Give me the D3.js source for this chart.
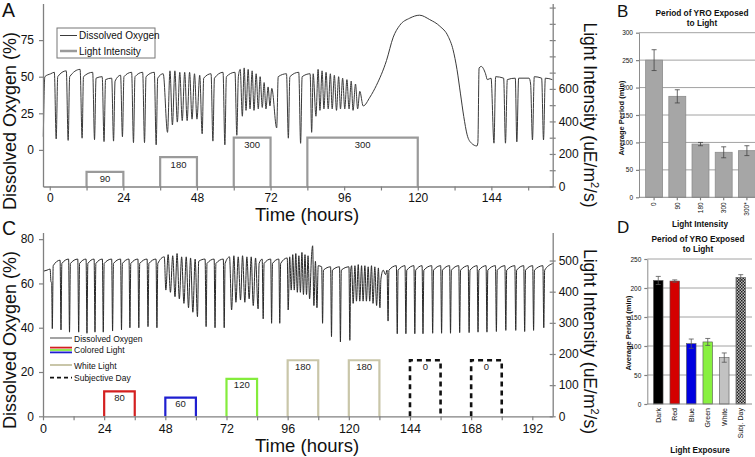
<!DOCTYPE html>
<html><head><meta charset="utf-8">
<script src="https://cdn.jsdelivr.net/npm/d3@7"></script>
<style>body{margin:0;background:#fff}svg{display:block}text{font-family:'Liberation Sans',Arial,sans-serif}</style>
</head><body><svg id="c" width="755" height="457"></svg>
<script>
// ---------------- DATA ----------------
// Panel A: dissolved oxygen trace [hours, %]
const doA = [
[-2.1,9],[-1.6,50],[0.3,52],[1.5,53],
[2.1,7.5],[2.6,50],[5.4,54],
[6.0,6.5],[6.5,50],[9.9,55],
[10.55,8],[11.0,50],[14.0,53],
[14.6,7],[15.1,49],[17.1,50],
[17.7,5.7],[18.2,48],[20.2,49],
[20.8,6],[21.3,47],[23.1,51],
[23.7,9],[24.2,50],[26.7,53],
[27.3,5],[27.8,50],[30.3,53],
[30.9,5],[31.4,50],[34.1,53],
[34.7,3.5],[35.2,49],[37.0,52],
[38.4,12],[39.2,54],[40.0,17],[40.8,54],[41.6,19],[42.4,53],[43.2,20],[44.0,53],[44.8,20],[45.6,53],[46.4,21],[47.2,52],[48.0,21],[48.9,51],
[49.7,11],[50.2,49],[52.6,52],
[53.2,6],[53.7,49],[56.5,53],
[57.1,3.5],[57.6,50],[60.4,53],
[61.0,10],[61.5,50],[62.1,55],
[62.8,23],[63.4,56],[64.0,27],[64.7,55],[65.3,28],[66.0,54],[66.6,27],[67.3,52],[68.0,28],[68.6,50],[69.3,29],[69.9,46],[70.5,28],[71.2,43],[71.8,30],[72.4,42],
[74.0,15],[74.5,50],[77.2,52],
[77.8,8],[78.3,50],[81.2,53],
[81.8,4.5],[82.3,50],[84.9,52],
[85.4,12],[85.9,52],
[86.8,23],[87.5,55],[88.1,27],[88.8,54],[89.4,28],[90.1,53],[90.8,28],[91.5,52],[92.1,28],[92.8,51],[93.5,27],[94.2,50],[94.8,28],[95.5,49],[96.2,28],[96.9,48],[97.6,28],[98.3,47],[98.9,27],[99.7,45],[100.4,28],[101.1,40],
[102.2,30],[104.4,36],[106.5,44],[109.8,61],[112.0,77],[114.1,85],[117.4,90],[120.6,92],[123.9,89],[127.2,84.5],[129.9,77.6],[131.5,68.5],[132.8,54.8],[133.9,38.8],[135.0,22.8],[136.1,10.3],[137.5,4.6],[139.3,2.7],[139.6,5],
[140.0,56],[140.7,57],[142.1,52],[142.7,48],[143.9,49],
[144.85,4.6],[145.4,50],[148.0,49],
[148.6,4.6],[149.2,48],[151.8,49],
[152.3,5.5],[152.9,49],[156.3,49],[156.8,45],
[157.4,6.8],[158.0,50],[160.4,49],
[161.0,6.8],[161.6,49],[163.9,48]
];
// Panel C: dissolved oxygen trace [hours, %]
const doC = [
[0.1,65.5],[1.6,66],[2.8,66.5],[3.1,61],[3.4,60],
[3.65,39.6],[4.0,68],[6.7,70.5],
[7.06,39],[7.4,69],[10.05,71],
[10.4,38],[10.75,69],[13.65,71],
[14.0,38],[14.35,69],[16.9,71],
[17.25,37.5],[17.6,69],[20.05,71],
[20.4,38],[20.75,69],[23.3,71],
[23.65,38],[24.0,69],[26.95,71],
[27.3,38.5],[27.65,69],[30.45,71],
[30.8,39],[31.15,69],[33.75,71],
[34.1,40],[34.45,69],[37.25,71],
[37.6,40],[37.95,69],[40.85,71],
[41.2,40.5],[41.55,69],[44.35,71],
[44.7,40],[45.05,69],[47.6,72],
[48.2,57],[49.1,73],[50.0,56],[50.9,72.5],[51.8,54],[52.6,73.5],[53.5,53],[54.4,72],[55.3,51],[56.2,72],[57.1,49],[57.9,71.5],[58.8,47],[59.7,71],[60.6,45],[61.1,70],[63.6,71],
[64.0,40.5],[64.35,69],[67.15,71],
[67.5,40],[67.85,69],[70.75,71],
[71.1,40],[71.45,69],[73.2,72],
[74.0,48],[74.9,72.5],[75.7,51.5],[76.6,72],[77.5,52.5],[78.3,72.5],[79.2,51.5],[80.0,72],[80.9,53],[81.7,72],[82.5,50],[83.4,71.5],[84.4,48.5],[84.8,69],[86.0,71],
[86.4,44],[86.75,69],[89.35,71],
[89.7,42],[90.05,69],[92.55,71],
[92.9,42],[93.25,69],[95.85,71.5],
[96.2,48],[96.8,72],
[97.4,57],[98.0,73],[98.6,57],[99.2,73.5],[99.8,56],[100.4,72.5],[101.0,56],[101.6,74],[102.2,55],[102.8,73],[103.4,55],[104.0,72.5],[104.6,53],[105.4,73],[105.8,77],[106.3,50],[106.9,70],[107.5,49],[108.0,68],
[109.35,67.5],[109.7,42],[110.05,66],[112.85,67.5],
[113.2,36],[113.55,66],[116.35,67.5],
[116.7,33.6],[117.05,66],[120.05,67.5],
[120.4,34.3],[120.75,66],[121.1,68],
[121.7,51],[122.4,68],[123.0,52],[123.7,68.5],[124.3,52],[125.0,68],[125.6,52],[126.3,68],[126.9,52],[127.6,67.5],[128.2,52],[128.9,68],[129.5,51],[130.2,67.5],[130.9,50],[131.6,67],[132.2,49],
[132.6,62],[133.5,66],[134.4,64],[135.0,66],[135.4,43],[135.75,66],[138.65,68],
[139.0,37.3],[139.35,66],[142.05,68],
[142.4,37.3],[142.75,66],[145.55,68],
[145.9,37.3],[146.25,66],[148.75,68],
[149.1,37.3],[149.45,66],[152.55,68],
[152.9,37.5],[153.25,66],[156.05,68],
[156.4,37.5],[156.75,66],[159.55,68],
[159.9,37.5],[160.25,66],[163.15,68],
[163.5,37.8],[163.85,66],[166.85,68],
[167.2,37.8],[167.55,66],[170.35,68],
[170.7,38],[171.05,66],[173.85,68],
[174.2,38],[174.55,66],[177.55,68],
[177.9,38.3],[178.25,66],[181.25,68],
[181.6,38.8],[181.95,66],[185.15,68],
[185.5,38.8],[185.85,66],[188.65,68],
[189.0,38.3],[189.35,66],[192.15,68],
[192.5,38.8],[192.85,66],[196.15,68],
[196.5,40],[196.85,66],[200,69]
];
// Light treatments
const lightA_start = [12,36,60,84];
const lightA_end   = [24,48,72,120];
const lightA_val   = [90,180,300,300];
const lightC_start = [24,48,72,96,120,144,168];
const lightC_end   = [36,60,84,108,132,156,180];
const lightC_val   = [80,60,120,180,180,180,180];
const lightC_label = ["80","60","120","180","180","0","0"];
const lightC_kind  = ["red","blue","green","white","white","subj","subj"];
// Bar charts
const barB_cats = ["0","90","180","300","300*"];
const barB_vals = [250,184,97,82,85];
const barB_err  = [19,12,3,10,9];
const barD_cats = ["Dark","Red","Blue","Green","White","Subj. Day"];
const barD_vals = [213,212,104,107,80,218];
const barD_err  = [7,2,8,6,8,5];
// Tick labels
const ticksA_x  = [0,24,48,72,96,120,144];
const ticksA_yL = [0,25,50,75];
const ticksA_yR = [0,200,400,600];
const ticksC_x  = [0,24,48,72,96,120,144,168,192];
const ticksC_yL = [0,20,40,60,80];
const ticksC_yR = [0,100,200,300,400,500];
const ticksB_y  = [0,50,100,150,200,250,300];
const ticksD_y  = [0,50,100,150,200,250];

// ---------------- DRAW ----------------
const svg = d3.select("#c");
svg.append("rect").attr("width",755).attr("height",457).attr("fill","#fff");
const AX = "#808080";
const defs = svg.append("defs");
const pat = defs.append("pattern").attr("id","chk").attr("width",3).attr("height",3).attr("patternUnits","userSpaceOnUse");
pat.append("rect").attr("width",3).attr("height",3).attr("fill","#bbb");
pat.append("rect").attr("width",1.5).attr("height",1.5).attr("fill","#222");
pat.append("rect").attr("x",1.5).attr("y",1.5).attr("width",1.5).attr("height",1.5).attr("fill","#222");

function styleAxis(g, fs){
  g.select(".domain").attr("stroke",AX).attr("stroke-width",1.3);
  g.selectAll(".tick line").attr("stroke",AX).attr("stroke-width",1.2);
  g.selectAll(".tick text").attr("fill","#111").attr("font-size",fs).attr("font-family","'Liberation Sans',Arial,sans-serif");
}

// ===== Panel A =====
const xA = d3.scaleLinear().domain([-2.2,164]).range([43,552.7]);
const yA = d3.scaleLinear().domain([-25,100]).range([186.5,3.5]);
const yA2 = d3.scaleLinear().domain([0,1125]).range([186.5,3.5]);

// light boxes
const boxLineA = d3.line().x(d=>xA(d[0])).y(d=>yA2(d[1]));
lightA_start.forEach((s,i)=>{
  const e = lightA_end[i], v = lightA_val[i];
  svg.append("path").attr("d",boxLineA([[s,0],[s,v],[e,v],[e,0]])).attr("fill","none").attr("stroke","#9a9a9a").attr("stroke-width",2.2);
  svg.append("text").attr("x",xA((s+e)/2)).attr("y",yA2(v)+10.5).attr("text-anchor","middle").attr("font-size",9.5).attr("fill","#222").text(String(v));
});
// DO line
svg.append("path").attr("d",d3.line().curve(d3.curveMonotoneX).x(d=>xA(d[0])).y(d=>yA(d[1]))(doA)).attr("fill","none").attr("stroke","#3a3a3a").attr("stroke-width",1);

// axes
let g = svg.append("g").attr("transform","translate(43,0)").call(d3.axisLeft(yA).tickValues(ticksA_yL).tickSize(4).tickPadding(5).tickSizeOuter(0));
styleAxis(g,12);
g = svg.append("g").attr("transform","translate(0,186.5)").call(d3.axisBottom(xA).tickValues(d3.range(0,165,12)).tickFormat(d=>ticksA_x.includes(d)?d:"").tickSize(4).tickPadding(3).tickSizeOuter(0));
styleAxis(g,12);
g = svg.append("g").attr("transform","translate(552.7,0)").call(d3.axisRight(yA2).tickValues(d3.range(0,1101,100)).tickFormat(d=>ticksA_yR.includes(d)?d:"").tickSize(3).tickPadding(3).tickSizeOuter(0));
styleAxis(g,12);
g.selectAll(".tick").append("line").attr("x1",-3).attr("x2",0).attr("stroke",AX).attr("stroke-width",1.2);

// legend A
svg.append("rect").attr("x",57).attr("y",28).attr("width",98).attr("height",30).attr("fill","#fff").attr("stroke","#777").attr("stroke-width",1);
svg.append("line").attr("x1",60).attr("x2",77).attr("y1",35.5).attr("y2",35.5).attr("stroke","#3a3a3a").attr("stroke-width",1);
svg.append("line").attr("x1",60).attr("x2",77).attr("y1",51).attr("y2",51).attr("stroke","#9a9a9a").attr("stroke-width",2.5);
svg.append("text").attr("x",79).attr("y",39).attr("font-size",10).attr("fill","#111").text("Dissolved Oxygen");
svg.append("text").attr("x",79).attr("y",54.5).attr("font-size",10).attr("fill","#111").text("Light Intensity");

// titles A
svg.append("text").attr("transform","translate(16,121) rotate(-90)").attr("text-anchor","middle").attr("font-size",18).attr("fill","#111").text("Dissolved Oxygen (%)");
const tA = svg.append("text").attr("transform","translate(583.5,115) rotate(90)").attr("text-anchor","middle").attr("font-size",17.5).attr("fill","#111");
tA.append("tspan").text("Light Intensity (uE/m");
tA.append("tspan").attr("font-size",11).attr("dy",-7).text("2");
tA.append("tspan").attr("dy",7).text("/s)");
svg.append("text").attr("x",307).attr("y",221).attr("text-anchor","middle").attr("font-size",18.5).attr("fill","#111").text("Time (hours)");
svg.append("text").attr("x",2).attr("y",17).attr("font-size",19.5).attr("fill","#111").text("A");

// ===== Panel C =====
const xC = d3.scaleLinear().domain([0,200]).range([43,552.7]);
const yC = d3.scaleLinear().domain([0,83]).range([416.3,232.5]);
const yC2 = d3.scaleLinear().domain([0,590]).range([416.3,232.5]);
const colC = {red:"#d42020",blue:"#1f1fd0",green:"#84ec3c",white:"#c9c6a9",subj:"#111"};
const boxLineC = d3.line().x(d=>xC(d[0])).y(d=>yC2(d[1]));
lightC_start.forEach((s,i)=>{
  const e = lightC_end[i], v = lightC_val[i], k = lightC_kind[i];
  const p = svg.append("path").attr("d",boxLineC([[s,0],[s,v],[e,v],[e,0]])).attr("fill","none").attr("stroke",colC[k]).attr("stroke-width",k==="subj"?2.6:2.2);
  if(k==="subj") p.attr("stroke-dasharray","5,4");
  svg.append("text").attr("x",xC((s+e)/2)).attr("y",yC2(v)+9.5).attr("text-anchor","middle").attr("font-size",9.5).attr("fill","#222").text(lightC_label[i]);
});
svg.append("path").attr("d",d3.line().curve(d3.curveMonotoneX).x(d=>xC(d[0])).y(d=>yC(d[1]))(doC)).attr("fill","none").attr("stroke","#2a2a2a").attr("stroke-width",1);

g = svg.append("g").attr("transform","translate(43,0)").call(d3.axisLeft(yC).tickValues(ticksC_yL).tickSize(4).tickPadding(5).tickSizeOuter(0));
styleAxis(g,12);
g = svg.append("g").attr("transform","translate(0,416.3)").call(d3.axisBottom(xC).tickValues(d3.range(0,201,12)).tickFormat(d=>ticksC_x.includes(d)?d:"").tickSize(4).tickPadding(3.5).tickSizeOuter(0));
styleAxis(g,12.5);
g = svg.append("g").attr("transform","translate(552.7,0)").call(d3.axisRight(yC2).tickValues(ticksC_yR).tickSize(3).tickPadding(3).tickSizeOuter(0));
styleAxis(g,12);
g.selectAll(".tick").append("line").attr("x1",-3).attr("x2",0).attr("stroke",AX).attr("stroke-width",1.2);

// legend C
const lgC = svg.append("g");
lgC.append("line").attr("x1",50).attr("x2",72).attr("y1",338).attr("y2",338).attr("stroke","#666").attr("stroke-width",1.2);
lgC.append("line").attr("x1",50).attr("x2",72).attr("y1",347.6).attr("y2",347.6).attr("stroke",colC.red).attr("stroke-width",1.8);
lgC.append("line").attr("x1",50).attr("x2",72).attr("y1",350).attr("y2",350).attr("stroke",colC.green).attr("stroke-width",1.8);
lgC.append("line").attr("x1",50).attr("x2",72).attr("y1",352.4).attr("y2",352.4).attr("stroke",colC.blue).attr("stroke-width",1.8);
lgC.append("line").attr("x1",50).attr("x2",72).attr("y1",365).attr("y2",365).attr("stroke",colC.white).attr("stroke-width",2);
lgC.append("line").attr("x1",50).attr("x2",72).attr("y1",377.7).attr("y2",377.7).attr("stroke","#111").attr("stroke-width",1.8).attr("stroke-dasharray","4,3");
[["Dissolved Oxygen",341.5],["Colored Light",352.5],["White Light",368.5],["Subjective Day",381]].forEach(d=>{
  lgC.append("text").attr("x",74).attr("y",d[1]).attr("font-size",8.5).attr("fill","#111").text(d[0]);
});

svg.append("text").attr("transform","translate(16,340) rotate(-90)").attr("text-anchor","middle").attr("font-size",18).attr("fill","#111").text("Dissolved Oxygen (%)");
const tC = svg.append("text").attr("transform","translate(583.5,341.5) rotate(90)").attr("text-anchor","middle").attr("font-size",17.5).attr("fill","#111");
tC.append("tspan").text("Light Intensity (uE/m");
tC.append("tspan").attr("font-size",11).attr("dy",-7).text("2");
tC.append("tspan").attr("dy",7).text("/s)");
svg.append("text").attr("x",307).attr("y",452).attr("text-anchor","middle").attr("font-size",18.5).attr("fill","#111").text("Time (hours)");
svg.append("text").attr("x",2).attr("y",235).attr("font-size",19.5).attr("fill","#111").text("C");

// ===== Panel B =====
const yB = d3.scaleLinear().domain([0,300]).range([197.3,32.7]);
const xB = d3.scaleBand().domain(barB_cats).range([641,760]).paddingInner(0.27).paddingOuter(0.2);
const gB = svg.append("g");
ticksB_y.slice(1).forEach(v=>gB.append("line").attr("x1",639).attr("x2",755).attr("y1",yB(v)).attr("y2",yB(v)).attr("stroke","#8a8a8a").attr("stroke-width",0.8));
gB.selectAll("rect.b").data(barB_vals).join("rect").attr("x",(d,i)=>xB(barB_cats[i])).attr("width",xB.bandwidth()).attr("y",d=>yB(d)).attr("height",d=>yB(0)-yB(d)).attr("fill","#a6a6a6").attr("stroke","#8c8c8c").attr("stroke-width",0.8);
barB_vals.forEach((v,i)=>{
  const cx = xB(barB_cats[i])+xB.bandwidth()/2, e = barB_err[i];
  gB.append("path").attr("d",`M${cx},${yB(v+e)}V${yB(v-e)}M${cx-2.5},${yB(v+e)}H${cx+2.5}M${cx-2.5},${yB(v-e)}H${cx+2.5}`).attr("stroke","#444").attr("stroke-width",0.8).attr("fill","none");
});
g = svg.append("g").attr("transform","translate(639,0)").call(d3.axisLeft(yB).tickValues(ticksB_y).tickSize(3).tickPadding(3).tickSizeOuter(0));
styleAxis(g,6.5); g.select(".domain").attr("stroke-width",0.9);
g = svg.append("g").attr("transform","translate(0,197.3)").call(d3.axisBottom(xB).tickSize(3).tickSizeOuter(0));
styleAxis(g,6.5); g.select(".domain").attr("stroke-width",0.9).attr("d","M639,0H755");
g.selectAll(".tick text").attr("transform","rotate(-90)").attr("text-anchor","end").attr("x",-5).attr("y",0).attr("dy","0.35em");
svg.append("text").attr("x",702).attr("y",16).attr("text-anchor","middle").attr("font-size",8.3).attr("font-weight","bold").attr("fill","#111").text("Period of YRO Exposed");
svg.append("text").attr("x",702).attr("y",26).attr("text-anchor","middle").attr("font-size",8.3).attr("font-weight","bold").attr("fill","#111").text("to Light");
svg.append("text").attr("transform","translate(624,118) rotate(-90)").attr("text-anchor","middle").attr("font-size",7.5).attr("font-weight","bold").attr("fill","#111").text("Average Period (min)");
svg.append("text").attr("x",700).attr("y",227).attr("text-anchor","middle").attr("font-size",8.2).attr("font-weight","bold").attr("fill","#111").text("Light Intensity");
svg.append("text").attr("x",617).attr("y",17).attr("font-size",17).attr("fill","#111").text("B");

// ===== Panel D =====
const yD = d3.scaleLinear().domain([0,250]).range([404,259]);
const xD = d3.scaleBand().domain(barD_cats).range([650,749]).paddingInner(0.42).paddingOuter(0.21);
const colD = ["#000000","#d40000","#0000e0","#88f040","#c2c2c2","url(#chk)"];
const gD = svg.append("g");
ticksD_y.slice(1).forEach(v=>gD.append("line").attr("x1",647.3).attr("x2",752).attr("y1",yD(v)).attr("y2",yD(v)).attr("stroke","#8a8a8a").attr("stroke-width",0.8));
gD.selectAll("rect.b").data(barD_vals).join("rect").attr("x",(d,i)=>xD(barD_cats[i])).attr("width",xD.bandwidth()).attr("y",d=>yD(d)).attr("height",d=>yD(0)-yD(d)).attr("fill",(d,i)=>colD[i]).attr("stroke","#555").attr("stroke-width",0.6);
barD_vals.forEach((v,i)=>{
  const cx = xD(barD_cats[i])+xD.bandwidth()/2, e = barD_err[i];
  gD.append("path").attr("d",`M${cx},${yD(v+e)}V${yD(v-e)}M${cx-2.5},${yD(v+e)}H${cx+2.5}M${cx-2.5},${yD(v-e)}H${cx+2.5}`).attr("stroke","#555").attr("stroke-width",0.8).attr("fill","none");
});
g = svg.append("g").attr("transform","translate(647.3,0)").call(d3.axisLeft(yD).tickValues(ticksD_y).tickSize(3).tickPadding(3).tickSizeOuter(0));
styleAxis(g,6.5); g.select(".domain").attr("stroke-width",0.9);
g = svg.append("g").attr("transform","translate(0,404)").call(d3.axisBottom(xD).tickSize(0).tickSizeOuter(0));
styleAxis(g,7); g.select(".domain").attr("stroke-width",0.9).attr("d","M647.3,0H752");
g.selectAll(".tick text").attr("transform","rotate(-90)").attr("text-anchor","end").attr("x",-4).attr("y",0).attr("dy","0.35em");
svg.append("text").attr("x",698).attr("y",242).attr("text-anchor","middle").attr("font-size",8.3).attr("font-weight","bold").attr("fill","#111").text("Period of YRO Exposed");
svg.append("text").attr("x",698).attr("y",251.5).attr("text-anchor","middle").attr("font-size",8.3).attr("font-weight","bold").attr("fill","#111").text("to Light");
svg.append("text").attr("transform","translate(631,333) rotate(-90)").attr("text-anchor","middle").attr("font-size",7.5).attr("font-weight","bold").attr("fill","#111").text("Average Period (min)");
svg.append("text").attr("x",700).attr("y",453).attr("text-anchor","middle").attr("font-size",8.2).attr("font-weight","bold").attr("fill","#111").text("Light Exposure");
svg.append("text").attr("x",617).attr("y",233).attr("font-size",17).attr("fill","#111").text("D");
</script></body></html>
